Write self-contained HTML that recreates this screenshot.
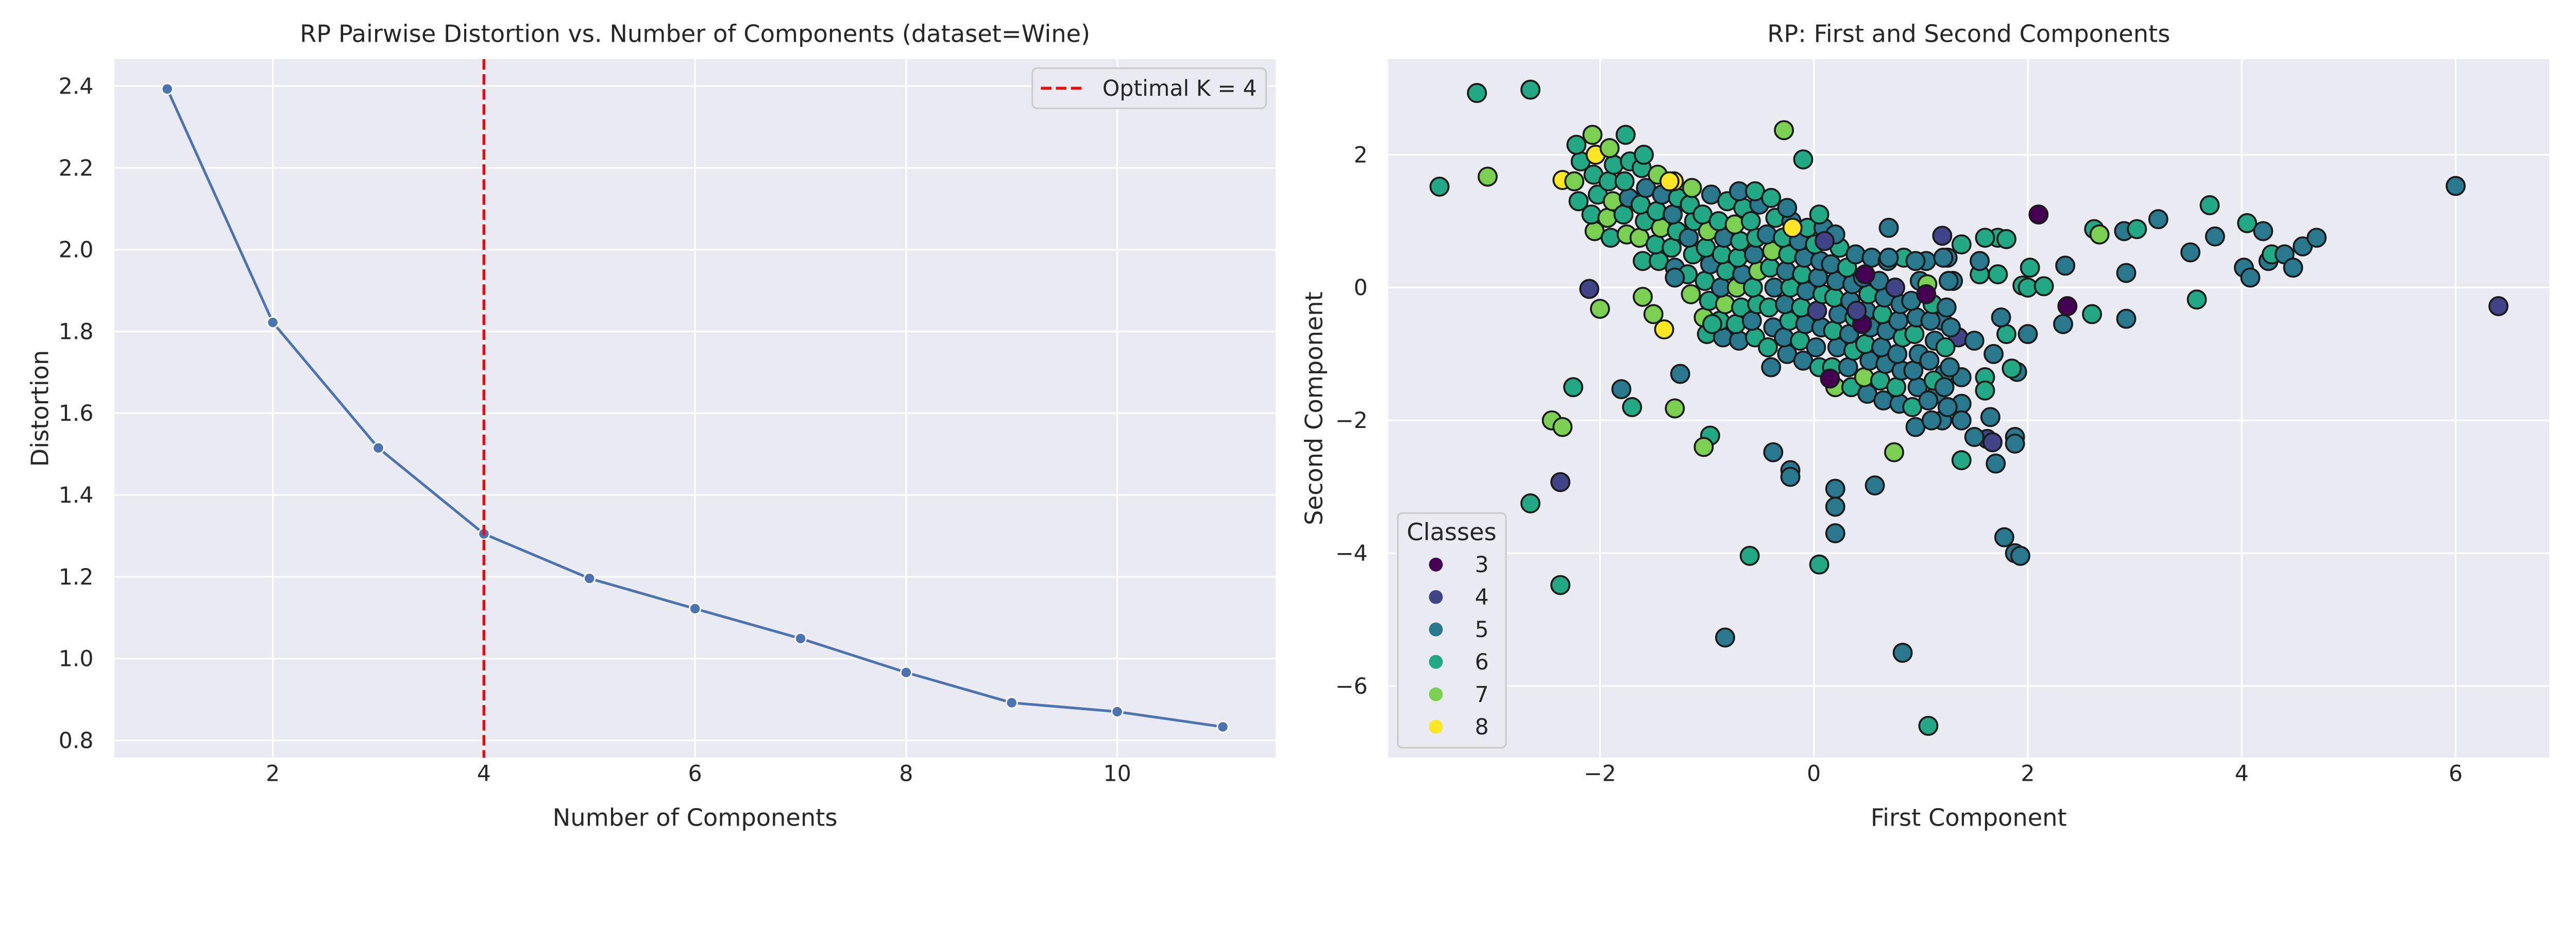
<!DOCTYPE html>
<html><head><meta charset="utf-8"><style>
html,body{margin:0;padding:0;background:#fff;overflow:hidden;}
svg{display:block;position:absolute;left:0;top:0;width:100vw;height:calc(100vw / 3);font-family:"DejaVu Sans","Liberation Sans",sans-serif;}
</style></head><body>
<svg id="fig" viewBox="0 0 5400 1800" preserveAspectRatio="xMinYMin meet" xmlns="http://www.w3.org/2000/svg">
<rect width="5400" height="1800" fill="#ffffff"/>
<g id="left"></g>
<g id="right"></g>
</svg>
<script>
// ---- Left chart data ----
const components = [1,2,3,4,5,6,7,8,9,10,11];
const distortion = [2.393,1.822,1.515,1.305,1.196,1.122,1.049,0.966,0.892,0.870,0.833];
const leftXTicks = [2,4,6,8,10];
const leftYTicks = [0.8,1.0,1.2,1.4,1.6,1.8,2.0,2.2,2.4];
const optimalK = 4;

// ---- Right chart data ----
const rightXTicks = [-2,0,2,4,6];
const rightYTicks = [-6,-4,-2,0,2];
const classLabels = [3,4,5,6,7,8];
const classColors = ["#440154","#414487","#2a788e","#22a884","#7ad151","#fde725"];
const ptX = [
-3.15,-2.65,-3.5,-3.05,-2.35,-2.1,-2.0,-1.6,-1.5,-1.4,-2.25,-2.45,-2.35,-2.37,-2.65,-2.37,-1.8,-1.7,-1.3,-1.25,-0.97,-1.03,-0.38,-0.22,-0.22,-0.83,-0.6,0.05,0.2,0.2,0.2,0.57,0.83,1.07,0.75,1.38,1.78,1.88,1.93,1.7,1.88,1.88,1.62,1.67,1.5,-0.28,-0.1,2.1,2.37,2.33,2.35,2.6,2.62,2.67,2.9,2.92,2.92,3.02,3.22,3.52,3.58,3.7,3.75,4.02,4.05,4.08,4.2,4.25,4.28,4.4,4.48,4.57,4.7,6.0,6.4,1.95,2.0,2.02,2.15,2.0,1.9,1.85,1.8,1.75,1.72,1.8,1.6,1.72,1.55,1.55,1.38,1.2,1.05,1.25,1.3,1.35,1.5,1.68,1.6,1.6,1.65,1.38,1.38,1.38,1.2,1.15,1.22,1.2,0.7,
-2.2,-2.24,-2.18,-2.22,
-2.05,-2.08,-2.02,-2.06,-2.04,-2.07,
-1.9,-1.93,-1.88,-1.92,-1.87,-1.91,
-1.75,-1.78,-1.73,-1.77,-1.72,-1.76,
-1.6,-1.63,-1.58,-1.62,-1.57,-1.61,-1.59,
-1.45,-1.48,-1.43,-1.47,-1.42,-1.46,
-1.3,-1.33,-1.28,-1.32,-1.27,-1.31,
-1.15,-1.18,-1.13,-1.17,-1.12,-1.16,-1.14,
-1.0,-1.03,-0.98,-1.02,-0.97,-1.01,-0.99,-1.04,-0.96,
-0.85,-0.88,-0.83,-0.87,-0.82,-0.86,-0.84,-0.89,-0.81,
-0.7,-0.73,-0.68,-0.72,-0.67,-0.71,-0.69,-0.74,-0.66,-0.7,
-0.55,-0.58,-0.53,-0.57,-0.52,-0.56,-0.54,-0.59,-0.51,-0.55,
-0.4,-0.43,-0.38,-0.42,-0.37,-0.41,-0.39,-0.44,-0.36,-0.4,
-0.25,-0.28,-0.23,-0.27,-0.22,-0.26,-0.24,-0.29,-0.21,-0.25,
-0.1,-0.13,-0.08,-0.12,-0.07,-0.11,-0.09,-0.14,-0.06,
0.05,0.02,0.07,0.03,0.08,0.04,0.06,0.01,0.09,0.05,
0.2,0.17,0.22,0.18,0.23,0.19,0.21,0.16,0.24,0.2,
0.35,0.32,0.37,0.33,0.38,0.34,0.36,0.31,0.39,
0.5,0.47,0.52,0.48,0.53,0.49,0.51,0.46,0.54,
0.65,0.62,0.67,0.63,0.68,0.64,0.66,0.61,0.69,
0.8,0.77,0.82,0.78,0.83,0.79,0.81,0.76,0.84,
0.95,0.92,0.97,0.93,0.98,0.94,0.96,0.91,0.99,0.95,
1.1,1.07,1.12,1.08,1.13,1.09,1.11,1.06,
1.25,1.22,1.27,1.23,1.28,1.24,1.26,1.21,
-1.35,0.48,0.45,0.15,-0.95,1.05,0.1,0.4,-0.2,-1.3,0.7
];
const ptY = [
2.93,2.98,1.52,1.67,1.62,-0.02,-0.32,-0.14,-0.4,-0.63,-1.5,-2.0,-2.1,-2.93,-3.25,-4.48,-1.53,-1.8,-1.82,-1.3,-2.23,-2.4,-2.48,-2.75,-2.85,-5.27,-4.04,-4.17,-3.03,-3.3,-3.7,-2.98,-5.5,-6.6,-2.48,-2.6,-3.76,-4.0,-4.04,-2.65,-2.25,-2.35,-2.28,-2.33,-2.25,2.37,1.93,1.1,-0.28,-0.55,0.33,-0.4,0.88,0.8,0.85,0.22,-0.47,0.88,1.03,0.53,-0.18,1.24,0.77,0.3,0.97,0.15,0.85,0.4,0.5,0.5,0.3,0.62,0.75,1.53,-0.28,0.03,0.0,0.3,0.02,-0.7,-1.27,-1.22,-0.7,-0.45,0.75,0.73,0.75,0.2,0.2,0.4,0.65,0.78,0.4,0.45,0.1,-0.75,-0.8,-1.0,-1.35,-1.55,-1.95,-1.35,-1.75,-2.0,-2.0,-1.6,-1.3,-0.5,0.9,
1.3,1.6,1.9,2.15,
0.85,1.1,1.4,1.7,2.0,2.3,
0.75,1.05,1.3,1.6,1.85,2.1,
0.8,1.1,1.35,1.6,1.9,2.3,
0.4,0.75,1.0,1.25,1.5,1.8,2.0,
0.4,0.65,0.9,1.15,1.4,1.7,
0.3,0.6,0.85,1.1,1.35,1.6,
-0.1,0.2,0.5,0.75,1.0,1.25,1.5,
-0.7,-0.45,-0.2,0.1,0.35,0.6,0.85,1.1,1.4,
-0.75,-0.5,-0.25,0.0,0.25,0.5,0.75,1.0,1.3,
-0.8,-0.55,-0.3,0.0,0.2,0.45,0.7,0.95,1.2,1.45,
-0.75,-0.5,-0.25,0.0,0.25,0.5,0.75,1.0,1.25,1.45,
-1.2,-0.9,-0.6,-0.3,0.0,0.3,0.55,0.8,1.05,1.35,
-1.0,-0.75,-0.5,-0.25,0.0,0.25,0.5,0.75,1.0,1.2,
-1.1,-0.8,-0.55,-0.3,-0.05,0.2,0.45,0.7,0.9,
-1.2,-0.9,-0.6,-0.35,-0.1,0.15,0.4,0.65,0.9,1.1,
-1.5,-1.2,-0.9,-0.65,-0.4,-0.15,0.1,0.35,0.6,0.8,
-1.5,-1.2,-0.95,-0.7,-0.45,-0.2,0.05,0.3,0.5,
-1.6,-1.35,-1.1,-0.85,-0.6,-0.35,-0.1,0.15,0.45,
-1.7,-1.4,-1.15,-0.9,-0.65,-0.4,-0.15,0.1,0.4,
-1.75,-1.5,-1.25,-1.0,-0.75,-0.5,-0.25,0.0,0.45,
-2.1,-1.8,-1.5,-1.25,-1.0,-0.7,-0.45,-0.2,0.1,0.4,
-2.0,-1.7,-1.4,-1.1,-0.8,-0.5,-0.25,0.05,
-1.8,-1.5,-1.2,-0.9,-0.6,-0.3,0.1,0.45,
1.6,0.2,-0.55,-1.37,-0.55,-0.1,0.7,-0.35,0.9,0.15,0.45
];
const ptClass = [
6,6,6,7,8,4,7,7,7,8,6,7,7,4,6,6,5,6,7,5,6,7,5,5,5,5,6,6,5,5,5,5,5,6,7,6,5,5,5,5,5,5,4,4,5,7,6,3,3,5,5,6,6,7,5,5,5,6,5,5,6,6,5,5,6,5,5,5,6,5,5,5,5,5,4,6,6,6,6,5,5,6,6,5,6,6,6,6,6,5,6,4,5,5,5,4,5,5,6,6,5,5,5,5,5,5,5,5,5,
6,7,6,6,
7,6,6,6,8,7,
6,7,7,6,6,7,
7,6,5,6,6,6,
6,7,6,6,5,6,6,
6,6,7,6,5,7,
5,6,6,5,6,8,
7,6,6,5,6,6,7,
6,7,6,6,5,6,7,6,5,
5,6,7,5,6,6,5,6,6,
5,6,6,7,5,6,6,7,6,5,
6,5,6,6,7,5,6,6,5,6,
5,6,5,6,5,6,7,5,6,6,
5,5,6,5,6,5,6,6,5,5,
5,6,5,6,5,6,5,5,6,
6,5,5,4,6,5,5,6,5,6,
7,6,5,6,5,6,5,5,6,5,
6,5,6,5,6,5,5,6,5,
5,7,5,6,5,5,6,5,5,
5,6,5,5,5,6,5,5,5,
5,6,5,5,6,5,5,4,6,
5,6,5,5,5,6,5,5,5,5,
5,5,6,5,5,5,6,7,
5,5,5,6,5,5,5,5,
8,3,3,3,6,3,4,4,8,5,5
];

const NS="http://www.w3.org/2000/svg";
function mk(parent,tag,attrs){const e=document.createElementNS(NS,tag);for(const k in attrs)e.setAttribute(k,attrs[k]);parent.appendChild(e);return e;}
function fmtTick(v){return (v<0?"\u2212":"")+Math.abs(v);}

// ===== Left chart =====
(function(){
const g=document.getElementById('left');
const L=240,R=2674,T=124,B=1589;
const x0=0.5,x1=11.5,y0=0.7575,y1=2.466;
const sx=v=>L+(v-x0)/(x1-x0)*(R-L);
const sy=v=>B-(v-y0)/(y1-y0)*(B-T);
const bg=mk(g,'rect',{x:L,y:T,width:R-L,height:B-T,fill:'#eaeaf2'});


leftXTicks.forEach(t=>{
 const ln=mk(g,'line',{x1:sx(t),x2:sx(t),y1:T,y2:B,stroke:'#fff','stroke-width':3.5});
 
 
 const tx=mk(g,'text',{x:sx(t),y:1638,'font-size':46,fill:'#262626','text-anchor':'middle'});
 tx.textContent=fmtTick(t);
 
 
});
leftYTicks.forEach(t=>{
 const ln=mk(g,'line',{x1:L,x2:R,y1:sy(t),y2:sy(t),stroke:'#fff','stroke-width':3.5});
 
 
 const tx=mk(g,'text',{x:196,y:sy(t)+16,'font-size':46,fill:'#262626','text-anchor':'end'});
 tx.textContent=t.toFixed(1);
 
 
});
const pts=components.map((c,i)=>sx(c)+','+sy(distortion[i])).join(' ');
const pl=mk(g,'polyline',{points:pts,fill:'none',stroke:'#4c72b0','stroke-width':5.5,'stroke-linejoin':'round'});


components.forEach((c,i)=>{
 const m=mk(g,'circle',{cx:sx(c),cy:sy(distortion[i]),r:11.5,fill:'#4c72b0',stroke:'#fff','stroke-width':3});
 
 
});
const vl=mk(g,'line',{x1:sx(optimalK),x2:sx(optimalK),y1:T,y2:B,stroke:'#ff0000','stroke-width':6,'stroke-dasharray':'22 9.5'});


const lg=mk(g,'g',{});


mk(lg,'rect',{x:2164,y:143,width:490,height:84,rx:10,fill:'#eaeaf2',stroke:'#cccccc','stroke-width':3.5});
mk(lg,'line',{x1:2182,x2:2271,y1:185,y2:185,stroke:'#ff0000','stroke-width':6,'stroke-dasharray':'22 9.5'});
const lt=mk(lg,'text',{x:2311,y:201,'font-size':46,fill:'#262626'});lt.textContent='Optimal K = 4';
const ti=mk(g,'text',{x:(L+R)/2,y:88,'font-size':50,fill:'#262626','text-anchor':'middle'});
ti.textContent='RP Pairwise Distortion vs. Number of Components (dataset=Wine)';


const xl=mk(g,'text',{x:(L+R)/2,y:1732,'font-size':50,fill:'#262626','text-anchor':'middle'});
xl.textContent='Number of Components';


const yl=mk(g,'text',{x:0,y:0,'font-size':50,fill:'#262626','text-anchor':'middle',transform:'translate(101,'+((T+B)/2)+') rotate(-90)'});
yl.textContent='Distortion';


})();

// ===== Right chart =====
(function(){
const g=document.getElementById('right');
const L=2910,R=5344,T=124,B=1589;
const x0=-3.98,x1=6.875,y0=-7.08,y1=3.44;
const sx=v=>L+(v-x0)/(x1-x0)*(R-L);
const sy=v=>B-(v-y0)/(y1-y0)*(B-T);
const bg=mk(g,'rect',{x:L,y:T,width:R-L,height:B-T,fill:'#eaeaf2'});


rightXTicks.forEach(t=>{
 const ln=mk(g,'line',{x1:sx(t),x2:sx(t),y1:T,y2:B,stroke:'#fff','stroke-width':3.5});
 
 
 const tx=mk(g,'text',{x:sx(t),y:1638,'font-size':46,fill:'#262626','text-anchor':'middle'});
 tx.textContent=fmtTick(t);
 
 
});
rightYTicks.forEach(t=>{
 const ln=mk(g,'line',{x1:L,x2:R,y1:sy(t),y2:sy(t),stroke:'#fff','stroke-width':3.5});
 
 
 const tx=mk(g,'text',{x:2867,y:sy(t)+16,'font-size':46,fill:'#262626','text-anchor':'end'});
 tx.textContent=fmtTick(t);
 
 
});
const pg=mk(g,'g',{});


ptX.forEach((v,i)=>{
 const c=mk(pg,'circle',{cx:sx(v),cy:sy(ptY[i]),r:19,fill:classColors[classLabels.indexOf(ptClass[i])],stroke:'#1a1a1a','stroke-width':4});
 
 
});
const lg=mk(g,'g',{});


mk(lg,'rect',{x:2930,y:1076,width:227,height:492,rx:10,fill:'#eaeaf2',stroke:'#cccccc','stroke-width':3.5});
const lt=mk(lg,'text',{x:3043,y:1133,'font-size':50,fill:'#262626','text-anchor':'middle'});lt.textContent='Classes';
classLabels.forEach((c,i)=>{
 const y=1184+i*68;
 const m=mk(lg,'circle',{cx:3010,cy:y,r:14.5,fill:classColors[i]});
 
 
 const t=mk(lg,'text',{x:3121,y:y+16,'font-size':46,fill:'#262626','text-anchor':'end'});
 t.textContent=String(c);
 
 
});
const ti=mk(g,'text',{x:(L+R)/2,y:88,'font-size':50,fill:'#262626','text-anchor':'middle'});
ti.textContent='RP: First and Second Components';


const xl=mk(g,'text',{x:(L+R)/2,y:1732,'font-size':50,fill:'#262626','text-anchor':'middle'});
xl.textContent='First Component';


const yl=mk(g,'text',{x:0,y:0,'font-size':50,fill:'#262626','text-anchor':'middle',transform:'translate(2772,'+((T+B)/2)+') rotate(-90)'});
yl.textContent='Second Component';


})();
</script>
</body></html>
